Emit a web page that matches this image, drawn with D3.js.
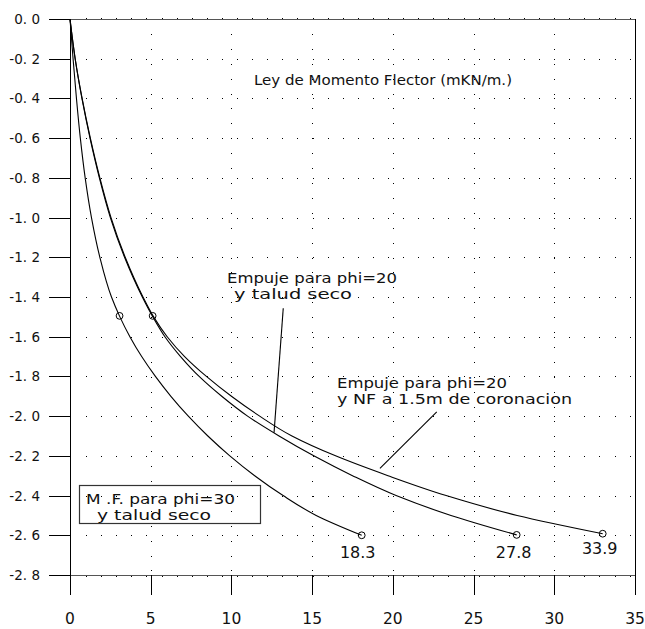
<!DOCTYPE html>
<html>
<head>
<meta charset="utf-8">
<script src="https://cdn.jsdelivr.net/npm/d3@7"></script>
<style>
  html, body { margin: 0; padding: 0; background: #fff; }
  svg { display: block; }
  text { font-family: "DejaVu Sans", sans-serif; fill: #111; }
</style>
</head>
<body>
<svg id="chart" width="645" height="629"></svg>
<script>
// ---- data ----
const xTicks = [0, 5, 10, 15, 20, 25, 30, 35];
const yTicks = [0, -0.2, -0.4, -0.6, -0.8, -1.0, -1.2, -1.4, -1.6, -1.8, -2.0, -2.2, -2.4, -2.6, -2.8];
const yTickLabels = ["0. 0", "-0. 2", "-0. 4", "-0. 6", "-0. 8", "-1. 0", "-1. 2", "-1. 4", "-1. 6", "-1. 8", "-2. 0", "-2. 2", "-2. 4", "-2. 6", "-2. 8"];

// M.F. para phi=30 y talud seco
const depthPhi30 = [0, -0.2, -0.4, -0.6, -0.8, -1.0, -1.2, -1.4, -1.5, -1.6, -1.7, -1.8, -1.9, -2.0, -2.1, -2.2, -2.3, -2.4, -2.5, -2.6];
const momentPhi30 = [0, 0.19, 0.40, 0.64, 0.94, 1.33, 1.85, 2.57, 3.09, 3.71, 4.44, 5.29, 6.25, 7.33, 8.54, 9.9, 11.44, 13.2, 15.25, 18.07];
// Empuje para phi=20 y talud seco
const depthPhi20 = [0, -0.2, -0.4, -0.6, -0.8, -1.0, -1.2, -1.4, -1.5, -1.6, -1.7, -1.8, -1.9, -2.0, -2.1, -2.2, -2.3, -2.4, -2.5, -2.598];
const momentPhi20 = [0, 0.32, 0.74, 1.24, 1.82, 2.5, 3.38, 4.48, 5.13, 5.88, 6.85, 8.0, 9.4, 11.0, 12.95, 15.1, 17.5, 20.2, 23.6, 27.67];
// Empuje para phi=20 y NF a 1.5m de coronacion
const depthPhi20NF = [0, -0.2, -0.4, -0.6, -0.8, -1.0, -1.2, -1.4, -1.5, -1.6, -1.7, -1.8, -1.9, -2.0, -2.1, -2.2, -2.3, -2.4, -2.5, -2.592];
const momentPhi20NF = [0, 0.32, 0.75, 1.26, 1.85, 2.54, 3.42, 4.52, 5.18, 6.02, 7.1, 8.45, 10.0, 11.75, 13.75, 16.45, 19.7, 23.3, 27.7, 33.0];

const markerMoment = [3.07, 5.12, 18.07, 27.67, 33.0];
const markerDepth = [-1.495, -1.495, -2.6, -2.598, -2.592];
const endLabels = ["18.3", "27.8", "33.9"];
const endLabelMoment = [18.07, 27.67, 33.0];
const endLabelDepth = [-2.6, -2.598, -2.592];

// ---- layout ----
const svg = d3.select("#chart");
const x = d3.scaleLinear().domain([0, 35]).range([70, 635]);
const y = d3.scaleLinear().domain([0, -2.8]).range([19, 575]);

// grid dots
const gGrid = svg.append("g").attr("stroke", "#000").attr("stroke-width", 1)
  .attr("shape-rendering", "crispEdges");
gGrid.selectAll("line.h").data(yTicks.slice(1, -1)).join("line")
  .attr("x1", x(0) + 2).attr("x2", x(35))
  .attr("y1", d => Math.round(y(d)) + 0.5).attr("y2", d => Math.round(y(d)) + 0.5)
  .attr("stroke-dasharray", "1,14.1").attr("stroke-dashoffset", -14);
gGrid.selectAll("line.v").data(xTicks.slice(1, -1)).join("line")
  .attr("y1", y(0) + 2).attr("y2", y(-2.8))
  .attr("x1", d => Math.round(x(d)) + 0.5).attr("x2", d => Math.round(x(d)) + 0.5)
  .attr("stroke-dasharray", "1,13.9").attr("stroke-dashoffset", -13);
[0, -2.8].forEach(v => {
  gGrid.append("line")
    .attr("x1", x(0) + 2).attr("x2", x(35))
    .attr("y1", Math.round(y(v)) + (v === 0 ? -0.5 : 1.5)).attr("y2", Math.round(y(v)) + (v === 0 ? -0.5 : 1.5))
    .attr("stroke-dasharray", "1,14.1").attr("stroke-dashoffset", -14);
});

// frame
const gFrame = svg.append("g").attr("stroke", "#000").attr("fill", "none")
  .attr("shape-rendering", "crispEdges");
gFrame.append("line").attr("x1", 49).attr("x2", x(35)).attr("y1", y(0) + 0.5).attr("y2", y(0) + 0.5)
  .attr("stroke", "#555").attr("stroke-width", 1.5);
gFrame.append("line").attr("x1", 49).attr("x2", x(35)).attr("y1", y(-2.8) + 0.5).attr("y2", y(-2.8) + 0.5)
  .attr("stroke", "#555").attr("stroke-width", 1.5);
gFrame.append("line").attr("x1", x(0) + 0.5).attr("x2", x(0) + 0.5).attr("y1", y(0)).attr("y2", y(-2.8) + 20);
gFrame.append("line").attr("x1", x(35) + 0.5).attr("x2", x(35) + 0.5).attr("y1", y(0)).attr("y2", y(-2.8) + 20);

gFrame.selectAll("line.yt").data(yTicks).join("line")
  .attr("x1", 49).attr("x2", x(0))
  .attr("y1", d => Math.round(y(d)) + 0.5).attr("y2", d => Math.round(y(d)) + 0.5);
gFrame.selectAll("line.xt").data(xTicks).join("line")
  .attr("x1", d => Math.round(x(d)) + 0.5).attr("x2", d => Math.round(x(d)) + 0.5)
  .attr("y1", y(-2.8)).attr("y2", y(-2.8) + 20);

// tick labels
svg.append("g").selectAll("text").data(yTicks).join("text")
  .attr("x", 40).attr("y", d => y(d) + 5)
  .attr("text-anchor", "end").attr("font-size", 13.5)
  .text((d, i) => yTickLabels[i]);
svg.append("g").selectAll("text").data(xTicks).join("text")
  .attr("x", d => x(d)).attr("y", 624)
  .attr("text-anchor", "middle").attr("font-size", 15.5)
  .text(d => d);

// curves (moment as a function of depth)
const series = [
  depthPhi30.map((d, i) => [momentPhi30[i], d]),
  depthPhi20.map((d, i) => [momentPhi20[i], d]),
  depthPhi20NF.map((d, i) => [momentPhi20NF[i], d])
];
const line = d3.line().x(d => x(d[0])).y(d => y(d[1])).curve(d3.curveMonotoneY);
const gCurves = svg.append("g").attr("fill", "none").attr("stroke", "#000").attr("stroke-width", 1.1);
series.forEach(s => gCurves.append("path").attr("d", line(s)));

// markers
svg.append("g").selectAll("circle").data(markerMoment).join("circle")
  .attr("cx", d => x(d)).attr("cy", (d, i) => y(markerDepth[i])).attr("r", 3.4)
  .attr("fill", "none").attr("stroke", "#000").attr("stroke-width", 1);

// end labels
svg.append("g").selectAll("text").data(endLabelMoment).join("text")
  .attr("x", (d, i) => x(d) - (i === 0 ? 4 : 3))
  .attr("y", (d, i) => y(endLabelDepth[i]) + 23 - (i === 2 ? 3 : 0))
  .attr("text-anchor", "middle").attr("font-size", 16)
  .text((d, i) => endLabels[i]);

// annotations
function label(txt, px, py, len) {
  svg.append("text").attr("x", px).attr("y", py).attr("font-size", 14)
    .attr("textLength", len).attr("lengthAdjust", "spacingAndGlyphs").text(txt);
}
label("Ley de Momento Flector (mKN/m.)", 254, 85, 258);
label("Empuje para phi=20", 227, 283, 170);
label("y talud seco", 234, 299, 118);
label("Empuje para phi=20", 337, 388, 170);
label("y NF a 1.5m de coronacion", 337, 404, 235);
label("M .F. para phi=30", 86, 504, 149);
label("y talud seco", 97, 520, 114);

// box
svg.append("rect").attr("x", 79.5).attr("y", 485.5).attr("width", 181).attr("height", 38)
  .attr("fill", "none").attr("stroke", "#333").attr("stroke-width", 1.2);

// leader lines
const leaders = [[[13.21,-1.457],[12.64,-2.083]], [[22.72,-1.978],[19.2,-2.263]]];
svg.append("g").attr("stroke", "#000").attr("stroke-width", 1.1).selectAll("line").data(leaders).join("line")
  .attr("x1", d => x(d[0][0])).attr("y1", d => y(d[0][1]))
  .attr("x2", d => x(d[1][0])).attr("y2", d => y(d[1][1]));
</script>
</body>
</html>
